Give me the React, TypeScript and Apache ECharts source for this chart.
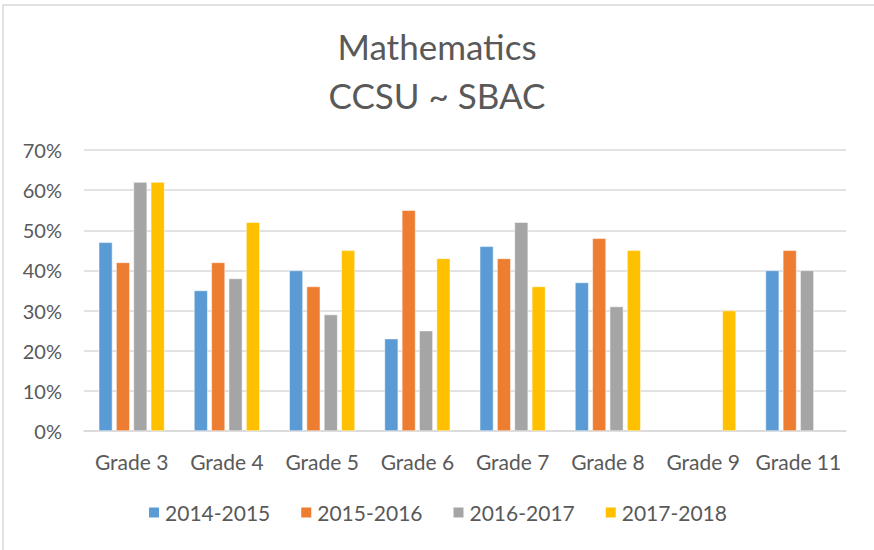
import React, { useEffect, useRef } from "react";
import * as echarts from "echarts";

const categories = ["Grade 3", "Grade 4", "Grade 5", "Grade 6", "Grade 7", "Grade 8", "Grade 9", "Grade 11"];
const seriesNames = ["2014-2015", "2015-2016", "2016-2017", "2017-2018"];
const s2014 = [47, 35, 40, 23, 46, 37, null, 40];
const s2015 = [42, 42, 36, 55, 43, 48, null, 45];
const s2016 = [62, 38, 29, 25, 52, 31, null, 40];
const s2017 = [62, 52, 45, 43, 36, 45, 30, null];
const colors = ["#5B9BD5", "#ED7D31", "#A5A5A5", "#FFC000"];

export default function App() {
  const ref = useRef<HTMLDivElement>(null);
  useEffect(() => {
    if (!ref.current) return;
    const chart = echarts.init(ref.current, undefined, { renderer: "svg" });
    const font = "Lato, 'Noto Sans', sans-serif";
    const data = [s2014, s2015, s2016, s2017];
    chart.setOption({
      animation: false,
      backgroundColor: "#ffffff",
      color: colors,
      title: {
        text: "Mathematics\nCCSU ~ SBAC",
        left: "center",
        top: 16,
        textStyle: { fontFamily: font, fontSize: 35, fontWeight: "normal", color: "#595959", lineHeight: 49 },
      },
      graphic: [
        {
          type: "polyline",
          shape: { points: [[3, 550], [3, 5], [874, 5]] },
          style: { stroke: "#d9d9d9", lineWidth: 1.5, fill: "none" },
        },
      ],
      legend: {
        bottom: 22,
        left: "center",
        itemWidth: 12,
        itemHeight: 12,
        itemGap: 29,
        icon: "rect",
        textStyle: { fontFamily: font, fontSize: 21, color: "#595959" },
        data: seriesNames,
      },
      grid: { left: 84, right: 28, top: 150, bottom: 119 },
      xAxis: {
        type: "category",
        data: categories,
        axisLine: { lineStyle: { color: "#d9d9d9", width: 1.5 } },
        axisTick: { show: false },
        axisLabel: { fontFamily: font, fontSize: 21, color: "#595959", margin: 20, interval: 0 },
      },
      yAxis: {
        type: "value",
        min: 0,
        max: 70,
        interval: 10,
        axisLabel: { formatter: "{value}%", fontFamily: font, fontSize: 20, color: "#595959", margin: 22 },
        splitLine: { lineStyle: { color: "#d9d9d9", width: 1.5 } },
        axisLine: { show: false },
        axisTick: { show: false },
      },
      series: seriesNames.map((name, i) => ({
        name,
        type: "bar",
        data: data[i],
        barGap: "27%",
        barCategoryGap: "31%",
        itemStyle: { color: colors[i], borderColor: "#ffffff", borderWidth: 0.5 },
      })),
    });
    return () => chart.dispose();
  }, []);
  return <div ref={ref} style={{ width: 874, height: 550, position: "absolute", left: 0, top: 0 }} />;
}
